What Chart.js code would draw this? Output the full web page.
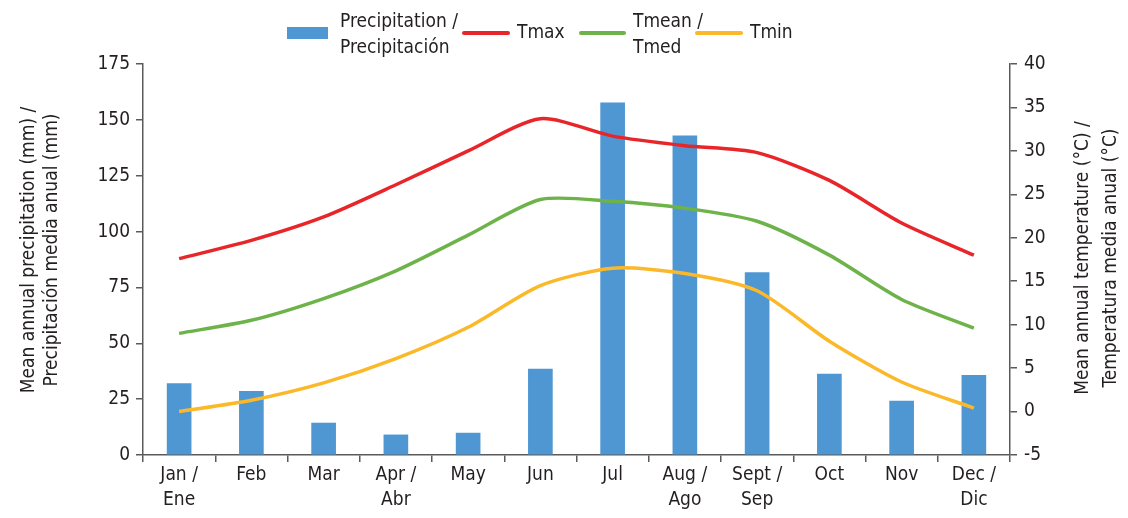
<!DOCTYPE html>
<html>
<head>
<meta charset="utf-8">
<script src="https://cdn.jsdelivr.net/npm/chart.js@4.4.0/dist/chart.umd.min.js"></script>
<style>
  html, body { margin: 0; padding: 0; background: #fff; }
  #wrap { width: 1128px; height: 518px; position: relative; }
</style>
</head>
<body>
<div id="wrap"><canvas id="climaChart" width="1128" height="518"></canvas></div>
<script>
// --- dados do gráfico ---
const months = [['Jan /', 'Ene'], 'Feb', 'Mar', ['Apr /', 'Abr'], 'May', 'Jun', 'Jul', ['Aug /', 'Ago'], ['Sept /', 'Sep'], 'Oct', 'Nov', ['Dec /', 'Dic']];
const precipitation = [32, 28.5, 14.3, 9, 9.8, 38.4, 157.6, 142.9, 81.7, 36.2, 24.1, 35.7];
const tmax = [17.6, 19.7, 22.4, 26.1, 30.0, 33.7, 31.7, 30.6, 29.8, 26.6, 21.7, 18.0];
const tmean = [9.0, 10.5, 13.0, 16.2, 20.3, 24.4, 24.2, 23.4, 21.9, 18.0, 12.9, 9.6];
const tmin = [0.0, 1.3, 3.3, 6.1, 9.7, 14.5, 16.5, 15.9, 13.9, 8.1, 3.4, 0.4];
const precipTicks = [0, 25, 50, 75, 100, 125, 150, 175];
const tempTicks = [-5, 0, 5, 10, 15, 20, 25, 30, 35, 40];
const leftTitle = ['Mean annual precipitation (mm) /', 'Precipitación media anual (mm)'];
const rightTitle = ['Mean annual temperature (°C) /', 'Temperatura media anual (°C)'];

const FONT = "'Liberation Sans Narrow', 'DejaVu Sans Condensed', 'Arial Narrow', sans-serif";
const TXT = '#231f20';
const AXIS = '#5a5a5a';

// Legenda e títulos dos eixos desenhados à mão (duas linhas, ambos rodados -90°)
const extrasPlugin = {
    id: 'extras',
    afterDraw(chart) {
        const ctx = chart.ctx;
        const items = [
            { type: 'box', color: '#4e97d2', x: 287, w: 41, text: ['Precipitation /', 'Precipitación'] },
            { type: 'line', color: '#e8262a', x: 464, w: 44, text: ['Tmax'] },
            { type: 'line', color: '#6db34a', x: 581, w: 43, text: ['Tmean /', 'Tmed'] },
            { type: 'line', color: '#fbb829', x: 697, w: 44, text: ['Tmin'] }
        ];
        const cy = 33;
        ctx.save();
        ctx.font = '19px ' + FONT;
        ctx.textBaseline = 'middle';
        items.forEach(it => {
            if (it.type === 'box') {
                ctx.fillStyle = it.color;
                ctx.fillRect(it.x, cy - 6, it.w, 12);
            } else {
                ctx.strokeStyle = it.color;
                ctx.lineWidth = 4;
                ctx.lineCap = 'round';
                ctx.beginPath();
                ctx.moveTo(it.x, cy);
                ctx.lineTo(it.x + it.w, cy);
                ctx.stroke();
            }
            ctx.fillStyle = TXT;
            const tx = it.x + it.w + (it.type === 'box' ? 12 : 9);
            if (it.text.length === 1) {
                ctx.fillText(it.text[0], tx, cy);
            } else {
                ctx.fillText(it.text[0], tx, cy - 11);
                ctx.fillText(it.text[1], tx, cy + 15);
            }
        });

        // títulos verticais
        const drawTitle = (lines, x1, x2, cyT) => {
            [x1, x2].forEach((x, i) => {
                ctx.save();
                ctx.translate(x, cyT);
                ctx.rotate(-Math.PI / 2);
                ctx.textAlign = 'center';
                ctx.textBaseline = 'middle';
                ctx.fillText(lines[i], 0, 0);
                ctx.restore();
            });
        };
        drawTitle(leftTitle, 29, 52, 250);
        drawTitle(rightTitle, 1083, 1111, 258);
        ctx.restore();
    }
};

const ctx = document.getElementById('climaChart').getContext('2d');
new Chart(ctx, {
    data: {
        labels: months,
        datasets: [
            { type: 'line', label: 'Tmax', data: tmax, yAxisID: 'yTemp', borderColor: '#e8262a', borderWidth: 3.5, pointRadius: 0, tension: 0.25, order: 1 },
            { type: 'line', label: 'Tmean / Tmed', data: tmean, yAxisID: 'yTemp', borderColor: '#6db34a', borderWidth: 3.5, pointRadius: 0, tension: 0.25, order: 2 },
            { type: 'line', label: 'Tmin', data: tmin, yAxisID: 'yTemp', borderColor: '#fbb829', borderWidth: 3.5, pointRadius: 0, tension: 0.25, order: 3 },
            { type: 'bar', label: 'Precipitation / Precipitación', data: precipitation, yAxisID: 'yPrec', backgroundColor: '#4e97d2', barThickness: 24, order: 4 }
        ]
    },
    options: {
        responsive: false,
        animation: false,
        layout: { padding: { top: 64, bottom: 0, left: 0, right: 0 } },
        plugins: { legend: { display: false }, tooltip: { enabled: false } },
        scales: {
            x: {
                offset: true,
                grid: { display: true, offset: true, drawOnChartArea: false, drawTicks: true, tickLength: 7, color: AXIS, lineWidth: 1.5 },
                border: { display: true, color: AXIS, width: 1.5 },
                ticks: { color: TXT, font: { family: FONT, size: 19, lineHeight: 1.35 }, maxRotation: 0, autoSkip: false, padding: 0 },
                afterFit(scale) { scale.height = 63; }
            },
            yPrec: {
                position: 'left',
                min: 0, max: 175,
                afterBuildTicks(scale) { scale.ticks = precipTicks.map(v => ({ value: v })); },
                grid: { drawOnChartArea: false, drawTicks: true, tickLength: 7, color: AXIS, lineWidth: 1.5 },
                border: { display: true, color: AXIS, width: 1.5 },
                ticks: { color: TXT, font: { family: FONT, size: 19 }, padding: 6 },
                afterFit(scale) { scale.width = 143; }
            },
            yTemp: {
                position: 'right',
                min: -5, max: 40,
                afterBuildTicks(scale) { scale.ticks = tempTicks.map(v => ({ value: v })); },
                grid: { drawOnChartArea: false, drawTicks: true, tickLength: 7, color: AXIS, lineWidth: 1.5 },
                border: { display: true, color: AXIS, width: 1.5 },
                ticks: { color: TXT, font: { family: FONT, size: 19 }, padding: 7 },
                afterFit(scale) { scale.width = 118; }
            }
        }
    },
    plugins: [extrasPlugin]
});
</script>
</body>
</html>
